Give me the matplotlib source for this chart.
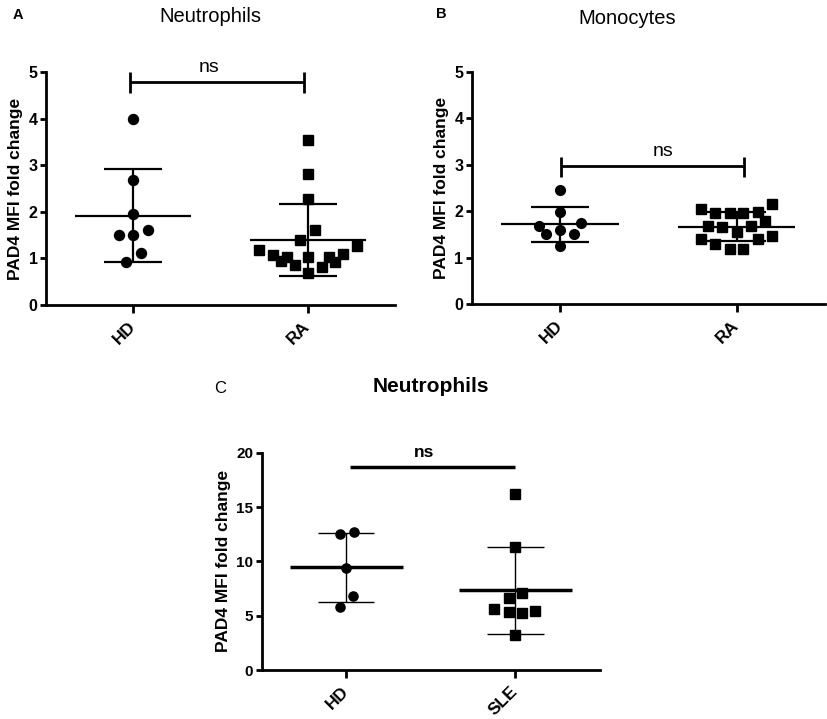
import matplotlib.pyplot as plt
import numpy as np

plt.rcParams["font.family"] = ["Liberation Sans", "DejaVu Sans"]

W, H = 827, 719

# Panel A: neutrophils, HD vs RA
a_groups = ["HD", "RA"]
a_hd = [4.0, 2.69, 1.96, 1.5, 1.5, 1.61, 1.11, 0.93]
a_hd_dx = [0, 0, 0, -0.082, 0, 0.082, 0.042, -0.042]
a_ra = [3.54, 2.82, 2.27, 1.61, 1.39, 1.18, 1.27, 1.07, 1.04,
        0.95, 0.86, 1.04, 0.69, 1.04, 1.09, 0.93, 0.82]
a_ra_dx = [0, 0, 0, 0.044, -0.042, -0.28, 0.28, -0.198, -0.118,
           -0.156, -0.074, 0, 0, 0.12, 0.2, 0.158, 0.082]

# Panel B: monocytes, HD vs RA
b_groups = ["HD", "RA"]
b_hd = [2.46, 1.97, 1.75, 1.68, 1.60, 1.50, 1.50, 1.24]
b_hd_dx = [0, 0, 0.12, -0.118, 0, -0.08, 0.08, 0]
b_ra = [2.04, 1.96, 1.95, 1.96, 1.99, 2.15, 1.78, 1.68, 1.65,
        1.68, 1.55, 1.40, 1.29, 1.39, 1.46, 1.18, 1.18]
b_ra_dx = [-0.203, -0.12, -0.04, 0.038, 0.119, 0.2, 0.162, -0.162, -0.082,
           0.08, 0, -0.203, -0.124, 0.119, 0.2, -0.04, 0.038]

# Panel C: neutrophils, HD vs SLE
c_groups = ["HD", "SLE"]
c_hd = [12.48, 12.67, 9.36, 6.84, 5.83]
c_hd_dx = [-0.035, 0.043, 0, 0.04, -0.035]
c_sle = [16.2, 11.29, 7.06, 6.66, 5.61, 5.31, 5.21, 5.43, 3.22]
c_sle_dx = [0, 0, 0.04, -0.04, -0.124, -0.04, 0.04, 0.118, 0]


def add_axes(fig, left, right, top, bottom):
    return fig.add_axes([left / W, 1 - bottom / H, (right - left) / W, (bottom - top) / H])


def style_axes(ax, ymax, yticks, labels, tick_size):
    ax.set_xlim(-0.5, 1.5)
    ax.set_ylim(0, ymax)
    for side in ["top", "right"]:
        ax.spines[side].set_visible(False)
    for side in ["left", "bottom"]:
        ax.spines[side].set_linewidth(2)
    ax.set_yticks(yticks)
    ax.set_xticks([0, 1])
    ax.set_xticklabels(labels, rotation=45, ha="right", va="center",
                       rotation_mode="anchor", fontweight="bold", fontsize=12.5)
    ax.tick_params(axis="y", length=4, width=2, pad=2, labelsize=tick_size)
    ax.tick_params(axis="x", length=6, width=2, pad=8)
    for lab in ax.get_yticklabels():
        lab.set_fontweight("bold")
    ax.set_ylabel("PAD4 MFI fold change", fontweight="bold", fontsize=12.5, labelpad=4)


def draw_group(ax, x, vals, dx, marker, ms, lw_mean, lw_sd, half_mean=0.333, half_cap=0.166):
    vals = np.asarray(vals)
    m = vals.mean()
    s = vals.std(ddof=1)
    ax.vlines(x, m - s, m + s, color="black", lw=lw_sd, zorder=2)
    ax.hlines([m - s, m + s], x - half_cap, x + half_cap, color="black", lw=lw_sd, zorder=2)
    ax.hlines(m, x - half_mean, x + half_mean, color="black", lw=lw_mean, zorder=2)
    ax.plot(x + np.asarray(dx), vals, marker, color="black", ms=ms, ls="none",
            zorder=3, clip_on=False)


fig = plt.figure(figsize=(W / 100, H / 100), dpi=100)

# ---- A ----
ax_a = add_axes(fig, 46, 395, 72, 305)
style_axes(ax_a, 5, range(6), a_groups, 11.5)
draw_group(ax_a, 0, a_hd, a_hd_dx, "o", 7.2, 1.6, 1.6)
draw_group(ax_a, 1, a_ra, a_ra_dx, "s", 6.8, 1.6, 1.6)
ax_a.hlines(4.79, -0.02, 0.977, color="black", lw=2, clip_on=False)
ax_a.vlines([-0.02, 0.977], 4.55, 5.0, color="black", lw=2, clip_on=False)
ax_a.text(0.434, 5.1, "ns", ha="center", va="center", fontsize=14)

# ---- B ----
ax_b = add_axes(fig, 471.7, 825, 71.7, 304)
style_axes(ax_b, 5, range(6), b_groups, 11.5)
draw_group(ax_b, 0, b_hd, b_hd_dx, "o", 7.0, 1.6, 1.6)
draw_group(ax_b, 1, b_ra, b_ra_dx, "s", 7.2, 1.6, 1.6)
ax_b.hlines(2.97, 0.004, 1.042, color="black", lw=2)
ax_b.vlines([0.004, 1.042], 2.74, 3.17, color="black", lw=2)
ax_b.text(0.583, 3.28, "ns", ha="center", va="center", fontsize=14)

# ---- C ----
ax_c = add_axes(fig, 261.7, 600, 452.7, 670)
style_axes(ax_c, 20, range(0, 21, 5), c_groups, 11)
draw_group(ax_c, 0, c_hd, c_hd_dx, "o", 6.6, 2.5, 1.0)
draw_group(ax_c, 1, c_sle, c_sle_dx, "s", 6.6, 2.5, 1.0)
ax_c.hlines(18.7, 0.024, 1.0, color="black", lw=2.5)
ax_c.text(0.46, 20.0, "ns", ha="center", va="center", fontsize=12.5, fontweight="bold")

# titles and panel letters
fig.text(210 / W, 1 - 17 / H, "Neutrophils", ha="center", va="center", fontsize=14.5)
fig.text(627 / W, 1 - 18 / H, "Monocytes", ha="center", va="center", fontsize=14.5)
fig.text(431 / W, 1 - 387 / H, "Neutrophils", ha="center", va="center", fontsize=15, fontweight="bold")
fig.text(18 / W, 1 - 15 / H, "A", ha="center", va="center", fontsize=10.5, fontweight="bold")
fig.text(441 / W, 1 - 14 / H, "B", ha="center", va="center", fontsize=10.5, fontweight="bold")
fig.text(220 / W, 1 - 388.5 / H, "C", ha="center", va="center", fontsize=12)

fig.savefig("out.png", dpi=100)
